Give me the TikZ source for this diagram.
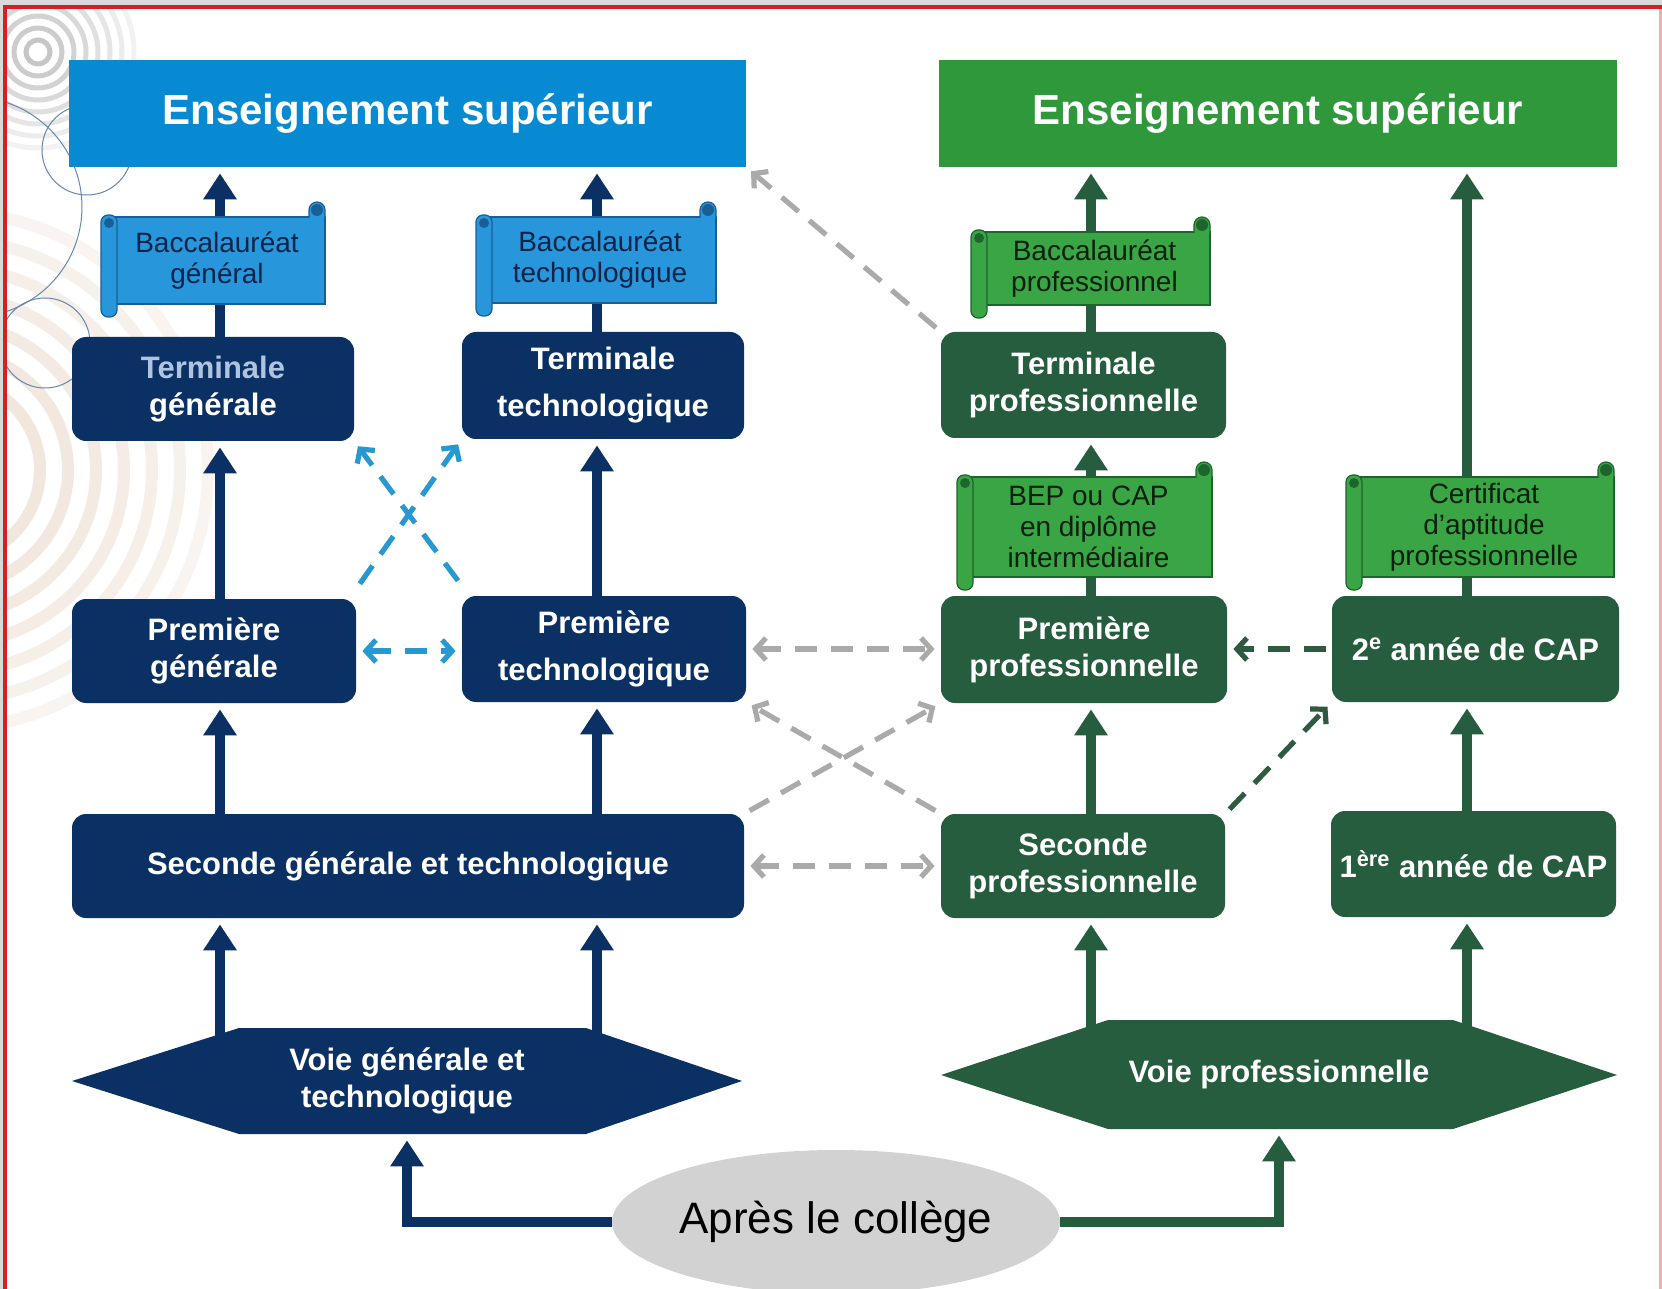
\documentclass[tikz,border=0pt]{standalone}
\usepackage{fontspec}
\setmainfont{Liberation Sans}
\usetikzlibrary{arrows.meta,shapes.geometric}
\definecolor{hdrblue}{RGB}{8,138,210}
\definecolor{scrblue}{RGB}{40,150,218}
\definecolor{scrblueedge}{RGB}{25,95,150}
\definecolor{navy}{RGB}{10,48,100}
\definecolor{hdrgreen}{RGB}{46,152,58}
\definecolor{scrgreen}{RGB}{58,165,68}
\definecolor{scrgreenedge}{RGB}{30,100,45}
\definecolor{dgreen}{RGB}{37,93,62}
\definecolor{dashblue}{RGB}{40,152,208}
\definecolor{dashgray}{RGB}{170,170,170}
\definecolor{dashgreen}{RGB}{45,90,64}
\definecolor{ellgray}{RGB}{210,210,210}
\definecolor{paleblue}{RGB}{175,196,224}
\definecolor{scrtxtblue}{RGB}{14,36,72}
\definecolor{scrtxtgreen}{RGB}{12,32,14}
\definecolor{framered}{RGB}{216,30,30}
\definecolor{beige}{RGB}{240,229,218}
\definecolor{ringblue}{RGB}{100,135,175}
\pgfdeclarelayer{deco}
\pgfdeclarelayer{bg}
\pgfsetlayers{deco,bg,main}
\tikzset{
  hdr/.style={inner sep=0pt, text=white, font=\bfseries\fontsize{21}{25}\selectfont},
  nbox/.style={rounded corners=7pt, inner sep=0pt, text=white, align=center, font=\bfseries\fontsize{15.5}{18.5}\selectfont},
  widebox/.style={font=\bfseries\fontsize{15.5}{23.5}\selectfont},
  hextxt/.style={inner sep=0pt, text=white, align=center, font=\bfseries\fontsize{15.5}{18.5}\selectfont},
  scrolltxt/.style={inner sep=0pt, align=center, font=\fontsize{14}{15.5}\selectfont},
  tharr/.style={line width=5pt, -{Triangle[width=16pt,length=13pt]}, shorten >=3pt},
  dsh/.style={line width=2.6pt, dash pattern=on 11pt off 7pt, shorten >=3pt, shorten <=3pt},
  onehead/.style={-{Straight Barb[length=5pt,width=11pt]}},
  twohead/.style={{Straight Barb[length=5pt,width=11pt]}-{Straight Barb[length=5pt,width=11pt]}},
  sz/.style 2 args={minimum width=#1pt, minimum height=#2pt}
}
\newcommand\scrollshape[9]{%
  \filldraw[fill=#6, draw=#7, line width=0.6pt] ({#2+8},{#3+15}) rectangle (#4,{#5-13});
  \filldraw[fill=#6, draw=#7, line width=0.6pt, rounded corners=3.5pt] (#2,{#3+13}) rectangle ({#2+16},#5);
  \filldraw[fill=#6, draw=#7, line width=0.6pt] ({#4-16},{#3+16}) -- ({#4-16},{#3+8}) arc[start angle=180, end angle=0, radius=4pt] -- (#4,{#3+16});
  \fill[#7] ({#2+8},{#3+21}) circle[radius=2.5pt];
  \fill[#7] ({#4-8},{#3+8}) circle[radius=3pt];
  \node[scrolltxt, text=#8] (#1) at ({(#2+#4)/2+4},{(#3+#5)/2+1}) {#9};
}
\begin{document}
\begin{tikzpicture}[x=0.5pt,y=-0.5pt]
\useasboundingbox (0,0) rectangle (1662,1289);

% ---------- background decoration ----------
\begin{pgfonlayer}{deco}
  \fill[gray!30] (0,0) rectangle (1662,1289);
  \fill[white] (7,9) rectangle (1662,1289);
  \begin{scope}
    \clip (7,9) rectangle (1662,1289);
    \foreach \r/\o in {90/90,118/85,146/80,174/70,202/60,230/50,258/40}
      \draw[beige, line width=6pt, opacity=\o/100] (-50,470) circle[radius=\r];
    \foreach \r/\o in {12/45,24/40,36/35,48/30,60/25,72/20,84/15,96/10}
      \draw[gray!\o, line width=2.5pt] (38,52) circle[radius=\r];
    \draw[ringblue, line width=0.5pt] (87,150) circle[radius=45];
    \draw[ringblue, line width=0.5pt] (-28,207) circle[radius=110];
    \draw[ringblue, line width=0.5pt] (45,343) circle[radius=45];
  \end{scope}
  \fill[framered] (3,5) rectangle (7,1289);
  \fill[framered] (3,5) rectangle (1662,9);
  \fill[framered!35] (1659,9) rectangle (1662,1289);
\end{pgfonlayer}

% ---------- headers ----------
\node[hdr, fill=hdrblue, sz={338.5}{53.5}] (hdrL) at (407.5,113.5) {Enseignement supérieur};
\node[hdr, fill=hdrgreen, sz={339}{53.5}] (hdrR) at (1278,113.5) {Enseignement supérieur};

% ---------- boxes ----------
\node[nbox, fill=navy, sz={141}{52}] (tg) at (213,389) {{\color{paleblue}Terminale}\\générale};
\node[nbox, widebox, fill=navy, sz={141}{53.5}] (tt) at (603,385.5) {Terminale\\technologique};
\node[nbox, fill=navy, sz={142}{52}] (pg) at (214,651) {Première\\générale};
\node[nbox, widebox, fill=navy, sz={142}{53}] (pt) at (604,649) {Première\\technologique};
\node[nbox, fill=navy, sz={336}{52}] (sg) at (408,866) {Seconde générale et technologique};
\node[nbox, fill=dgreen, sz={142.5}{53}] (tp) at (1083.5,385) {Terminale\\professionnelle};
\node[nbox, fill=dgreen, sz={143}{53.5}] (pp) at (1084,649.5) {Première\\professionnelle};
\node[nbox, fill=dgreen, sz={143.5}{53}] (cap2) at (1475.5,649) {2\textsuperscript{e} année de CAP};
\node[nbox, fill=dgreen, sz={142}{52}] (sp) at (1083,866) {Seconde\\professionnelle};
\node[nbox, fill=dgreen, sz={142.5}{53}] (cap1) at (1473.5,864) {1\textsuperscript{ère} année de CAP};

% ---------- hexagons ----------
\fill[navy] (72,1081) -- (239,1028) -- (586,1028) -- (742,1081) -- (586,1134) -- (239,1134) -- cycle;
\node[hextxt, sz={335}{53}] (voieG) at (407,1081) {Voie générale et\\technologique};
\fill[dgreen] (941,1075) -- (1108,1020) -- (1453,1020) -- (1617,1075) -- (1453,1129) -- (1108,1129) -- cycle;
\node[hextxt, sz={338}{54.5}] (voieP) at (1279,1074.5) {Voie professionnelle};

% ---------- ellipse ----------
\node[ellipse, fill=ellgray, minimum width=224pt, minimum height=72pt, inner sep=0pt,
      font=\fontsize{22}{26}\selectfont] (coll) at (836,1222) {Après le collège};

% ---------- scrolls ----------
\scrollshape{bg}{101}{202}{325}{317}{scrblue}{scrblueedge}{scrtxtblue}{Baccalauréat\\général}
\scrollshape{bt}{476}{202}{716}{316}{scrblue}{scrblueedge}{scrtxtblue}{Baccalauréat\\technologique}
\scrollshape{bp}{971}{217}{1210}{318}{scrgreen}{scrgreenedge}{scrtxtgreen}{Baccalauréat\\professionnel}
\scrollshape{bep}{957}{462}{1212}{590}{scrgreen}{scrgreenedge}{scrtxtgreen}{BEP ou CAP\\en diplôme\\intermédiaire}
\scrollshape{cert}{1346}{462}{1614}{590}{scrgreen}{scrgreenedge}{scrtxtgreen}{Certificat\\d’aptitude\\professionnelle}

% ---------- column coordinates ----------
\coordinate (cA) at (220,0);
\coordinate (cB) at (597,0);
\coordinate (cC) at (1091,0);
\coordinate (cD) at (1467,0);

% ---------- solid arrows (behind) ----------
\begin{pgfonlayer}{bg}
  \draw[tharr, navy] (voieG.center -| cA) -- (sg.south -| cA);
  \draw[tharr, navy] (voieG.center -| cB) -- (sg.south -| cB);
  \draw[tharr, navy] (sg.center -| cA) -- (pg.south -| cA);
  \draw[tharr, navy] (sg.center -| cB) -- (pt.south -| cB);
  \draw[tharr, navy] (pg.center -| cA) -- (tg.south -| cA);
  \draw[tharr, navy] (pt.center -| cB) -- (tt.south -| cB);
  \draw[tharr, navy] (tg.center -| cA) -- (hdrL.south -| cA);
  \draw[tharr, navy] (tt.center -| cB) -- (hdrL.south -| cB);
  \draw[tharr, dgreen] (voieP.center -| cC) -- (sp.south -| cC);
  \draw[tharr, dgreen] (voieP.center -| cD) -- (cap1.south -| cD);
  \draw[tharr, dgreen] (sp.center -| cC) -- (pp.south -| cC);
  \draw[tharr, dgreen] (cap1.center -| cD) -- (cap2.south -| cD);
  \draw[tharr, dgreen] (pp.center -| cC) -- (tp.south -| cC);
  \draw[tharr, dgreen] (cap2.center -| cD) -- (hdrR.south -| cD);
  \draw[tharr, dgreen] (tp.center -| cC) -- (hdrR.south -| cC);
\end{pgfonlayer}

\draw[tharr, navy] (coll.west) -| (voieG.south);
\draw[tharr, dgreen] (coll.east) -| (voieP.south);

% ---------- dashed arrows ----------
\draw[dsh, onehead, dashblue] ([yshift=5pt]pg.north east) -- (tt.south west);
\draw[dsh, onehead, dashblue] ([yshift=5pt]pt.north west) -- (tg.south east);
\draw[dsh, twohead, dashblue] (pg.east) -- (pg.east -| pt.west);
\draw[dsh, onehead, dashgray] (tp.north west) -- (hdrL.south east);
\draw[dsh, twohead, dashgray] (pt.east) -- (pt.east -| pp.west);
\draw[dsh, onehead, dashgray] (sg.north east) -- (pp.south west);
\draw[dsh, onehead, dashgray] (sp.north west) -- (pt.south east);
\draw[dsh, twohead, dashgray] (sg.east) -- (sg.east -| sp.west);
\draw[dsh, onehead, dashgreen] (cap2.west) -- (cap2.west -| pp.east);
\draw[dsh, onehead, dashgreen] (sp.north east) -- (cap2.south west);
\end{tikzpicture}
\end{document}
